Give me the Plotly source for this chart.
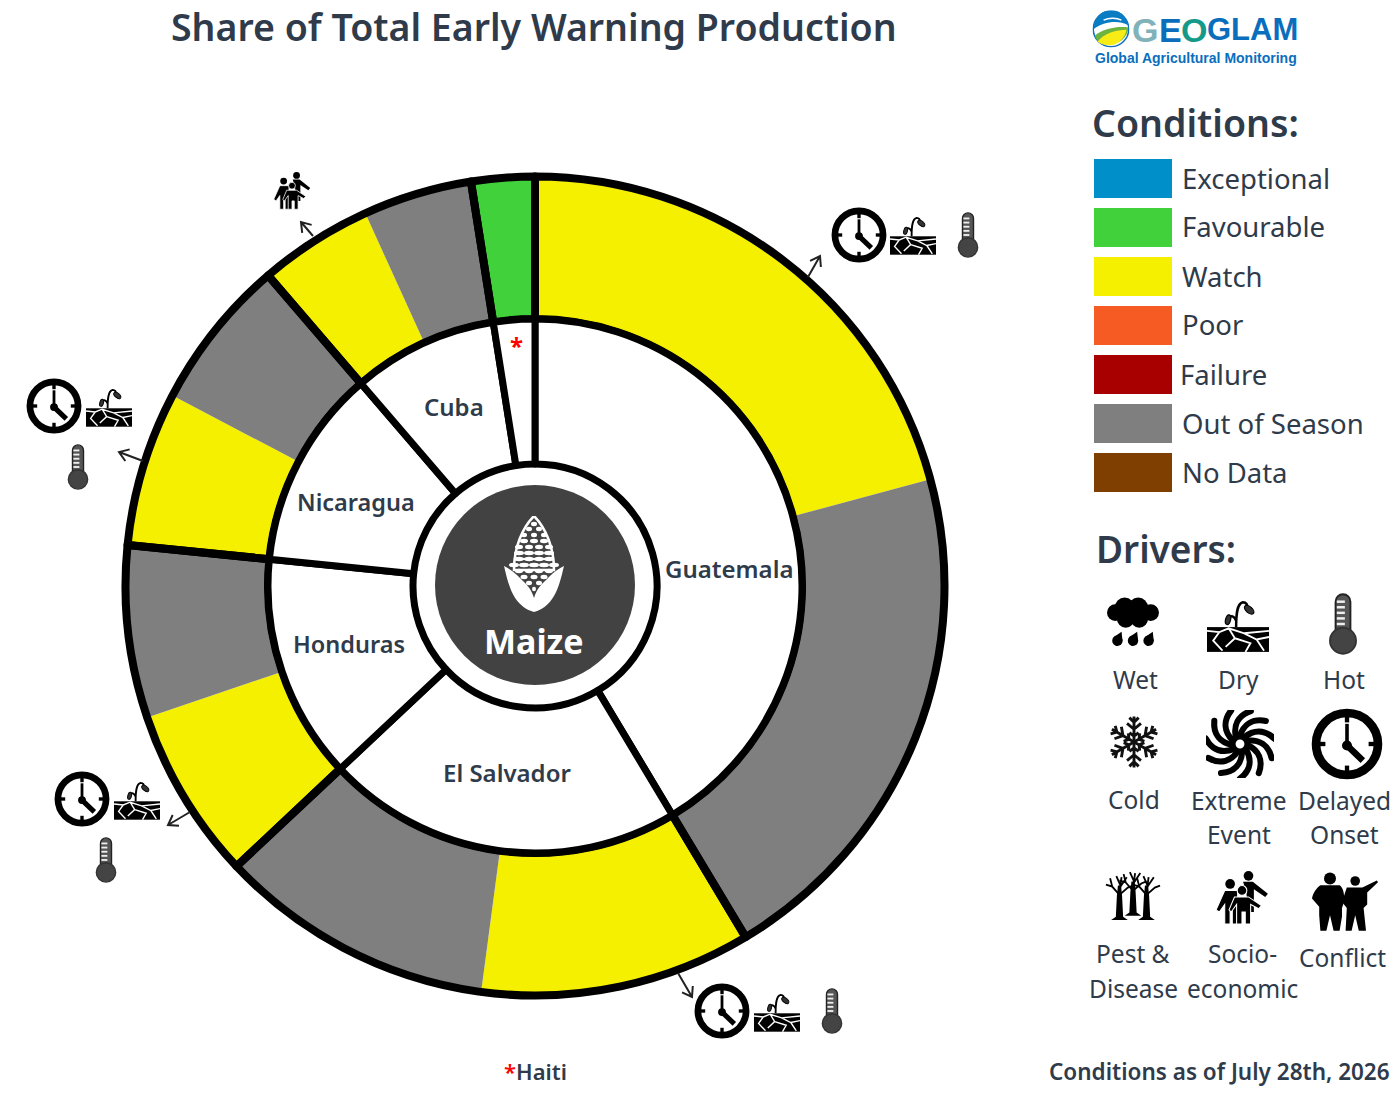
import base64
import math

import plotly.graph_objects as go

# Share of production, clockwise from the top
countries = ['Guatemala', 'El Salvador', 'Honduras', 'Nicaragua', 'Cuba', 'Haiti']
slice_country = ['Guatemala', 'Guatemala', 'El Salvador', 'El Salvador', 'Honduras', 'Honduras',
                 'Nicaragua', 'Nicaragua', 'Cuba', 'Cuba', 'Haiti']
slice_condition = ['Watch', 'Out of Season', 'Watch', 'Out of Season', 'Watch', 'Out of Season',
                   'Watch', 'Out of Season', 'Watch', 'Out of Season', 'Favourable']
slice_share = [20.8, 20.6, 10.7, 10.9, 6.8, 6.8, 6.1, 6.0, 4.5, 4.3, 2.5]

condition_names = ['Exceptional', 'Favourable', 'Watch', 'Poor', 'Failure', 'Out of Season', 'No Data']
condition_colors = ['#008FC9', '#41D13B', '#F5F000', '#F55B22', '#A80000', '#7F7F7F', '#7F3F00']

INK = '#2F3B4A'
CX, CY = 535, 586
W, H = 1400, 1100
FONT = 'Noto Sans'


def px(x):
    return x / W


def py(y):
    return 1 - y / H


def svg_uri(body, vw=100, vh=100):
    svg = f'<svg xmlns="http://www.w3.org/2000/svg" viewBox="0 0 {vw} {vh}">{body}</svg>'
    return 'data:image/svg+xml;base64,' + base64.b64encode(svg.encode()).decode()


def clock_svg():
    ticks = ''.join(f'<rect x="47" y="12" width="6" height="8" transform="rotate({a} 50 50)"/>' for a in (0, 90, 180, 270))
    return ('<circle cx="50" cy="50" r="43" fill="#fff" stroke="#000" stroke-width="12"/>' + ticks +
            '<path d="M50 22V52" fill="none" stroke="#000" stroke-width="5"/>'
            '<path d="M50 52L72 73" fill="none" stroke="#000" stroke-width="9"/>'
            '<circle cx="50" cy="52" r="7"/>')


def thermo_svg():
    ticks = ''.join(f'<rect x="15" y="{y}" width="13" height="4" fill="#eee"/>' for y in (12, 21, 30, 39, 48))
    return ('<rect x="13" y="2" width="24" height="74" rx="12" fill="#555" stroke="#222" stroke-width="3"/>' + ticks +
            '<circle cx="25" cy="77" r="21" fill="#444" stroke="#333" stroke-width="3"/>')


def dry_svg():
    return ('<rect x="0" y="50" width="100" height="40" fill="#000"/>'
            '<path d="M0 56L20 58L35 52L60 60L100 56M20 58L10 72L25 88M35 52L45 68L30 82M45 68L70 76L62 90'
            'M60 60L80 70L100 66M80 70L92 88" fill="none" stroke="#fff" stroke-width="3"/>'
            '<path d="M47 50C47 30 48 12 58 10C66 10 66 20 66 22M47 40C44 32 38 30 36 36" fill="none" stroke="#000" stroke-width="4"/>'
            '<ellipse cx="68" cy="22" rx="9" ry="5" transform="rotate(40 68 22)" fill="#333" stroke="#000" stroke-width="2"/>'
            '<ellipse cx="34" cy="38" rx="4" ry="8" transform="rotate(15 34 38)" fill="#333" stroke="#000" stroke-width="2"/>')


def wet_svg():
    drops = ''.join(f'<g transform="translate({x} 84) rotate(25)"><circle r="10"/><polygon points="-9.5,-3 9.5,-3 0,-19"/></g>'
                    for x in (20, 50, 80))
    return ('<circle cx="16" cy="30" r="16"/><circle cx="34" cy="20" r="19"/><circle cx="60" cy="20" r="19"/>'
            '<circle cx="84" cy="30" r="16"/><circle cx="36" cy="42" r="17"/><circle cx="62" cy="42" r="17"/>' + drops)


def cold_svg():
    arm = ('<path d="M50 50V6M50 16L42 8M50 16L58 8M50 28L38 18M50 28L62 18M50 40L42 34M50 40L58 34" '
           'fill="none" stroke="#111" stroke-width="5" transform="rotate({a} 50 50)"/>')
    return ''.join(arm.format(a=a) for a in range(0, 360, 60))


def extreme_svg():
    arm = ('<path d="M50 38C55 22 68 12 88 16" fill="none" stroke="#000" stroke-width="9" '
           'stroke-linecap="round" transform="rotate({a} 50 50)"/>')
    return ''.join(arm.format(a=a) for a in range(0, 360, 33)) + '<circle cx="50" cy="50" r="9" fill="#fff" stroke="#000" stroke-width="5"/>'


def pest_svg():
    tree = ('<g transform="translate({x} {y})"><path d="M-7 50L-5 10L-3 -10H3L5 10L7 50L16 56H-16Z"/>'
            '<path d="M0 8L-14 -8L-26 -12M-14 -8L-18 -24M0 4L4 -26M2 -10L-6 -28M2 -8L14 -26M0 8L16 -6L26 -10"'
            ' fill="none" stroke="#000" stroke-width="3.5"/></g>')
    return tree.format(x=24, y=38) + tree.format(x=76, y=38) + tree.format(x=50, y=30)


def socio_svg():
    return ('<circle cx="62" cy="9" r="9"/><path d="M52 20H70L98 42L93 48L72 34V76H62L58 40Z"/>'
            '<circle cx="28" cy="24" r="9"/><path d="M18 36H42V98H32V74H28V98H18V62L8 76L2 72Z" stroke="#fff" stroke-width="2"/>'
            '<circle cx="50" cy="36" r="9" stroke="#fff" stroke-width="2"/>'
            '<path d="M36 48H62L86 64L81 70L66 62V98H56V76H50V98H40V62L30 76L26 72Z" stroke="#fff" stroke-width="2"/>')


def conflict_svg():
    return ('<circle cx="30" cy="11" r="10"/><path d="M14 22H46C52 26 54 36 54 48L50 60L50 74L46 98H36L30 72L24 98H14'
            'L12 72L12 58L0 44C2 34 8 26 14 22Z"/>'
            '<circle cx="72" cy="15" r="8"/><path d="M58 26H84L108 14L110 17L92 34L92 54L86 60L90 98H78L72 72L66 98H56'
            'L58 60L50 50Z"/>')


def corn_svg():
    rows = [(4, 1, 3), (9, 2, 3), (15, 3, 3), (21, 3, 4), (27, 4, 4), (33, 4, 5), (39, 4, 5.5), (45, 5, 5),
            (51, 4, 4), (57, 3, 3.5), (63, 2, 3), (69, 1, 2)]
    kernels = ''
    for y, n, rx in rows:
        for i in range(n):
            kernels += f'<ellipse cx="{30 + (i - (n - 1) / 2) * 10}" cy="{y + 4}" rx="{rx}" ry="2.2" fill="#fff"/>'
    return ('<path d="M30 0C42 12 50 32 50 54H10C10 32 18 12 30 0Z" fill="#424242" stroke="#fff" stroke-width="2.5"/>' + kernels +
            '<path d="M0 50C8 54 12 58 16 62C22 68 27 72 30 82C33 72 38 68 44 62C48 58 52 54 60 50'
            'C56 66 52 90 30 96C8 90 4 66 0 50Z" fill="#fff"/>')


def swirl_svg():
    return ('<circle cx="50" cy="50" r="48" fill="#fff" stroke="#0A6EBD" stroke-width="4"/>'
            '<path d="M4 50A46 46 0 0 1 96 40C70 25 30 30 4 50Z" fill="#0A7CC4"/>'
            '<path d="M6 68C30 48 70 42 97 46C96 60 90 70 80 80C60 95 30 95 14 84Z" fill="#6CB33F"/>'
            '<path d="M14 84C30 62 65 52 92 52C88 72 72 92 50 94C36 95 22 92 14 84Z" fill="#F8EC14"/>'
            '<path d="M18 44C40 36 70 34 88 40M30 26C46 18 66 20 78 26" fill="none" stroke="#fff" stroke-width="4"/>')


fig = go.Figure()

ring_colors = [condition_colors[condition_names.index(c)] for c in slice_condition]
country_share = [sum(s for s, c in zip(slice_share, slice_country) if c == name) for name in countries]

R_OUT, R_MID, R_IN = 409.5, 267, 122


def pie_domain(r):
    return {'x': [px(CX - r), px(CX + r)], 'y': [py(CY + r), py(CY - r)]}


# Condition ring, no borders between slices of the same country
fig.add_trace(go.Pie(values=slice_share, labels=[f'{c} {k}' for c, k in zip(slice_country, slice_condition)],
                     sort=False, direction='clockwise', rotation=0, hole=R_MID / R_OUT,
                     domain=pie_domain(R_OUT), textinfo='none', hoverinfo='label+value',
                     marker=dict(colors=ring_colors, line=dict(width=0))))
# Country borders on top of the conditions
fig.add_trace(go.Pie(values=country_share, labels=countries, sort=False, direction='clockwise', rotation=0,
                     hole=R_MID / R_OUT, domain=pie_domain(R_OUT), textinfo='none', hoverinfo='skip',
                     marker=dict(colors=['rgba(0,0,0,0)'] * 6, line=dict(color='black', width=8))))
# Inner ring with the country names
fig.add_trace(go.Pie(values=country_share, labels=countries, sort=False, direction='clockwise', rotation=0,
                     hole=R_IN / R_MID, domain=pie_domain(R_MID), textinfo='none', hoverinfo='label+value',
                     marker=dict(colors=['white'] * 6, line=dict(color='black', width=7))))

shapes = []
annotations = []
images = []


def label(text, x, y, size=24.5, color=INK, weight=400, anchor='center', family=FONT):
    shift = {'left': -3, 'right': 2, 'center': 0}[anchor]
    annotations.append(dict(text=text, x=px(x + shift), y=py(y - 1), xref='paper', yref='paper', showarrow=False,
                            xanchor=anchor, yanchor='middle',
                            font=dict(family=family, size=size, color=color, weight=weight)))


def icon(body, x, y, w, h, vw=100, vh=100):
    images.append(dict(source=svg_uri(body, vw, vh), xref='paper', yref='paper', x=px(x - w / 2), y=py(y - h / 2),
                       sizex=w / W, sizey=h / H, sizing='contain', xanchor='left', yanchor='top', layer='above'))


def arrow(x0, y0, x1, y1, head=11):
    ang = math.atan2(y1 - y0, x1 - x0)
    ax = x1 - head * math.cos(ang - 0.6)
    ay = y1 - head * math.sin(ang - 0.6)
    bx = x1 - head * math.cos(ang + 0.6)
    by = y1 - head * math.sin(ang + 0.6)
    path = (f'M{px(x0)} {py(y0)}L{px(x1)} {py(y1)}M{px(ax)} {py(ay)}L{px(x1)} {py(y1)}L{px(bx)} {py(by)}')
    shapes.append(dict(type='path', path=path, xref='paper', yref='paper', line=dict(color='#222', width=2)))


# Centre disc, under the corn icon
shapes.append(dict(type='circle', xref='paper', yref='paper', x0=px(CX - 100), x1=px(CX + 100),
                   y0=py(CY + 99), y1=py(CY - 101), fillcolor='#424242', line=dict(width=0), layer='below'))
icon(corn_svg(), 534, 565, 60, 98, 60, 98)
label('Maize', 534, 642, size=34, color='white', weight=700)

# Country names
label('Guatemala', 729, 570, size=24, weight=600)
label('El Salvador', 507, 773, size=24, weight=600)
label('Honduras', 349, 645, size=23.5, weight=600)
label('Nicaragua', 356, 503, size=23.5, weight=600)
label('Cuba', 454, 407, size=24, weight=600)
label('*', 516, 346, size=24, color='red', weight=700)

# Drivers round the ring
arrow(808, 277, 820, 256)
icon(clock_svg(), 859, 235, 56, 56)
icon(dry_svg(), 913, 234, 46, 42, 100, 90)
icon(thermo_svg(), 968, 235, 23, 46, 50, 100)

arrow(143, 461, 119, 452)
icon(clock_svg(), 54, 406, 56, 56)
icon(dry_svg(), 109, 406, 46, 42, 100, 90)
icon(thermo_svg(), 78, 467, 23, 46, 50, 100)

arrow(190, 812, 168, 825)
icon(clock_svg(), 82, 799, 56, 56)
icon(dry_svg(), 137, 799, 46, 42, 100, 90)
icon(thermo_svg(), 106, 860, 23, 46, 50, 100)

arrow(678, 973, 692, 997)
icon(clock_svg(), 722, 1011, 56, 56)
icon(dry_svg(), 777, 1011, 46, 42, 100, 90)
icon(thermo_svg(), 832, 1011, 23, 46, 50, 100)

arrow(313, 236, 301, 222)
icon(socio_svg(), 292, 191, 38, 42)

# Title and footers
label('Share of Total Early Warning Production', 534, 28, size=37.5, weight=600)
annotations.append(dict(text="<span style='color:red'>*</span>Haiti", x=px(535), y=py(1071), xref='paper', yref='paper',
                        showarrow=False, xanchor='center', yanchor='middle',
                        font=dict(family=FONT, size=22, color=INK, weight=600)))
label('Conditions as of July 28th, 2026', 1390, 1072, size=22.5, weight=600, anchor='right')

# Logo
icon(swirl_svg(), 1111, 29, 37, 37)
label('G', 1145, 31, size=34, color='#7FB2B9', weight=700, family='Liberation Sans')
label('E', 1170, 31, size=34, color='#0A6EBD', weight=700, family='Liberation Sans')
label('O', 1194, 31, size=34, color='#159A8A', weight=700, family='Liberation Sans')
label('GLAM', 1252, 31, size=31, color='#0A6EBD', weight=700, family='Liberation Sans')
label('Global Agricultural Monitoring', 1196, 59, size=14, color='#0A6EBD', weight=700, family='Liberation Sans')

# Conditions legend
label('Conditions:', 1093, 123, size=37.5, weight=600, anchor='left')
for i, (name, color) in enumerate(zip(condition_names, condition_colors)):
    top = 159 + i * 49
    shapes.append(dict(type='rect', xref='paper', yref='paper', x0=px(1094), x1=px(1172), y0=py(top + 39), y1=py(top),
                       fillcolor=color, line=dict(width=0)))
    label(name, 1181 if name == 'Failure' else 1183, top + 20, size=27.5, anchor='left')

# Drivers legend
label('Drivers:', 1097, 550, size=37, weight=600, anchor='left')
icon(wet_svg(), 1133, 623, 52, 52)
label('Wet', 1135, 680)
icon(dry_svg(), 1238, 624, 62, 56, 100, 90)
label('Dry', 1238, 680)
icon(thermo_svg(), 1343, 624, 32, 62, 50, 100)
label('Hot', 1344, 680)
icon(cold_svg(), 1134, 742, 58, 58)
label('Cold', 1134, 800)
icon(extreme_svg(), 1240, 744, 68, 68)
label('Extreme', 1239, 801)
label('Event', 1239, 836)
icon(clock_svg(), 1347, 744, 72, 72)
label('Delayed', 1344, 801)
label('Onset', 1344, 836)
icon(pest_svg(), 1133, 897, 62, 52)
label('Pest &', 1133, 954)
label('Disease', 1133, 989)
icon(socio_svg(), 1242, 898, 54, 58)
label('Socio-', 1242, 954)
label('economic', 1242, 989)
icon(conflict_svg(), 1345, 902, 66, 64, 110, 100)
label('Conflict', 1342, 958)

fig.update_layout(width=W, height=H, margin=dict(l=0, r=0, t=0, b=0), showlegend=False, paper_bgcolor='white',
                  shapes=shapes, annotations=annotations, images=images)

fig.write_html('out.html', config={'displayModeBar': False}, post_script="document.body.style.margin='0';")
